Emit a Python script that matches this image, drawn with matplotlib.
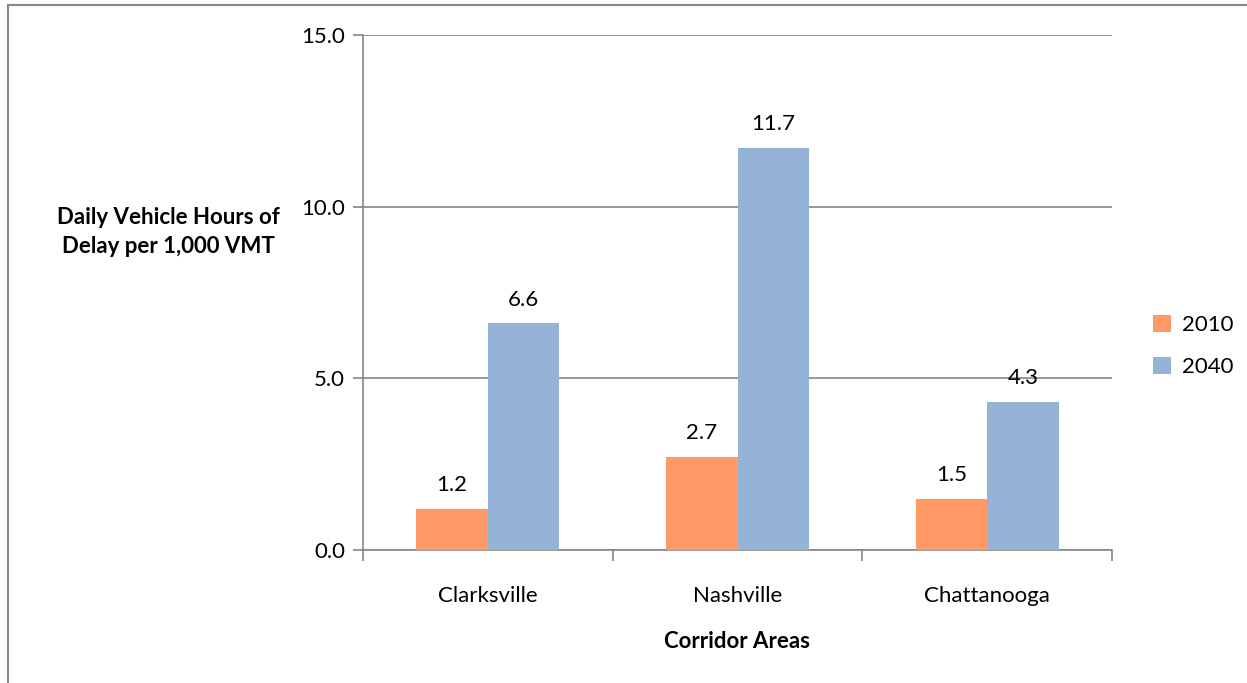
import matplotlib
matplotlib.use("Agg")
import matplotlib.pyplot as plt
from matplotlib.patches import Rectangle
import numpy as np

plt.rcParams['font.family'] = ['Lato', 'DejaVu Sans']

categories = ["Clarksville", "Nashville", "Chattanooga"]
series_names = ["2010", "2040"]
values_2010 = [1.2, 2.7, 1.5]
values_2040 = [6.6, 11.7, 4.3]
y_ticks = [0.0, 5.0, 10.0, 15.0]

colors = ["#FF9966", "#95B3D7"]
axis_gray = "#868686"
FS = 16

W, H = 1247, 683
fig = plt.figure(figsize=(W / 100, H / 100), dpi=100)
fig.patch.set_facecolor("white")

# chart-area frame
fig.add_artist(Rectangle((7.5 / W, -0.05), 1.2, 1 - 5.5 / H + 0.05,
                         transform=fig.transFigure, fill=False,
                         edgecolor=axis_gray, linewidth=1.5))

ax = fig.add_axes([363 / W, 1 - 550 / H, (1112 - 363) / W, (550 - 35) / H])

x = np.arange(len(categories))
bw = 0.286
b1 = ax.bar(x - bw / 2, values_2010, bw, color=colors[0], label=series_names[0], zorder=3)
b2 = ax.bar(x + bw / 2, values_2040, bw, color=colors[1], label=series_names[1], zorder=3)

for bars, vals in ((b1, values_2010), (b2, values_2040)):
    for rect, v in zip(bars, vals):
        ax.annotate(f"{v:.1f}", (rect.get_x() + rect.get_width() / 2, v),
                    xytext=(0, 10), textcoords="offset points",
                    ha="center", va="bottom", fontsize=FS, color="black")

ax.set_xlim(-0.5, len(categories) - 0.5)
ax.set_ylim(0, 15)
ax.set_yticks(y_ticks)
ax.set_yticklabels([f"{t:.1f}" for t in y_ticks], fontsize=FS)
ax.yaxis.grid(True, color=axis_gray, linewidth=1.2, zorder=0)
ax.set_axisbelow(True)

ax.set_xticks(x)
ax.set_xticklabels(categories, fontsize=FS)
ax.tick_params(axis="x", length=0, pad=26)
ax.set_xticks(np.arange(-0.5, len(categories)), minor=True)
ax.tick_params(axis="x", which="minor", length=8, color=axis_gray, width=1.2)
ax.tick_params(axis="y", length=7, color=axis_gray, width=1.2, pad=6)

for s in ("top", "right"):
    ax.spines[s].set_visible(False)
for s in ("left", "bottom"):
    ax.spines[s].set_color(axis_gray)
    ax.spines[s].set_linewidth(1.2)

fig.text(168 / W, 1 - 232 / H, "Daily Vehicle Hours of\nDelay per 1,000 VMT",
         ha="center", va="center", fontsize=FS, fontweight="bold",
         linespacing=1.5)
fig.text(737 / W, 1 - 641 / H, "Corridor Areas", ha="center", va="center",
         fontsize=FS, fontweight="bold")

leg = fig.legend(handles=[b1, b2], labels=series_names,
                 loc="center left", bbox_to_anchor=(1133 / W, 1 - 346 / H),
                 frameon=False, fontsize=FS, handlelength=0.8, handleheight=0.8,
                 handletextpad=0.5, labelspacing=1.0)

fig.savefig("out.png", dpi=100, facecolor="white")
